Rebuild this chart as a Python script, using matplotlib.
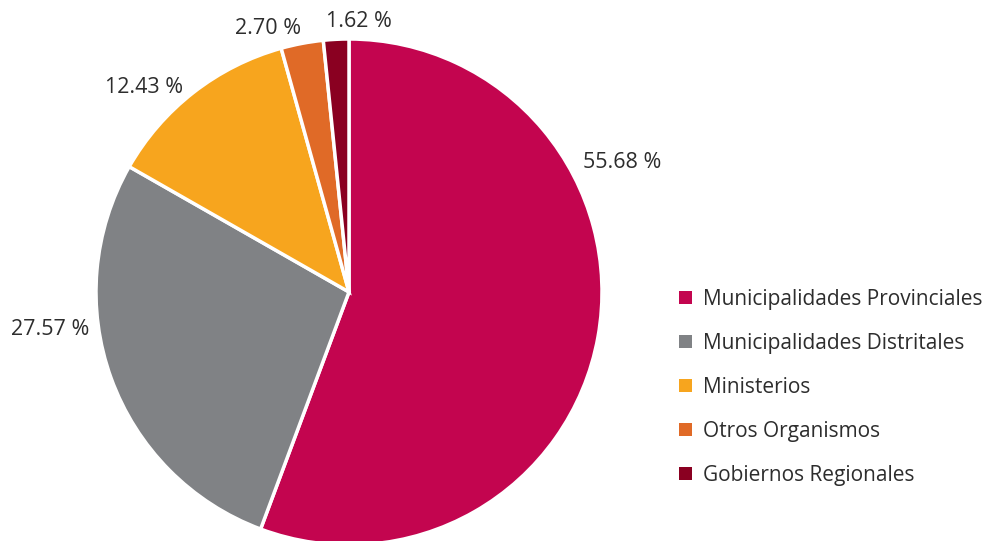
import matplotlib
matplotlib.use("Agg")
import matplotlib.pyplot as plt
from matplotlib.patches import Patch

# data
categories = ["Municipalidades Provinciales", "Municipalidades Distritales",
              "Ministerios", "Otros Organismos", "Gobiernos Regionales"]
shares = [55.68, 27.57, 12.43, 2.70, 1.62]
colors = ["#C3054F", "#808285", "#F7A51E", "#E06A27", "#8A0021"]
# label positions in pie-radius units
label_pos = [(1.08, 0.51), (-1.18, -0.15), (-0.81, 0.81), (-0.32, 1.04), (0.04, 1.07)]

plt.rcParams['font.family'] = ['Open Sans', 'DejaVu Sans']
text_color = "#2d2d2d"

W, H = 998, 541
fig = plt.figure(figsize=(W / 100, H / 100), dpi=100)

cx, cy, r = 349, 292, 253
ax = fig.add_axes([(cx - r) / W, (H - cy - r) / H, 2 * r / W, 2 * r / H])
wedges, _ = ax.pie(shares, colors=colors, startangle=90, counterclock=False,
                   wedgeprops=dict(edgecolor="white", linewidth=2.5), radius=1)
ax.set_xlim(-1, 1)
ax.set_ylim(-1, 1)
ax.set_aspect("equal")
ax.axis("off")
for w in wedges:
    w.set_clip_on(False)

for val, (x, y) in zip(shares, label_pos):
    ax.text(x, y, f"{val:.2f} %", ha="center", va="center",
            fontsize=15.5, color=text_color)

handles = [Patch(facecolor=c, edgecolor="none") for c in colors]
fig.legend(handles, categories, loc="upper left",
           bbox_to_anchor=(679 / W, 1 - 289 / H), frameon=False,
           fontsize=15, labelcolor=text_color, handlelength=0.62,
           handleheight=0.62, handletextpad=0.55, labelspacing=1.1,
           borderpad=0, borderaxespad=0)

fig.savefig("out.png", dpi=100, facecolor="white")
